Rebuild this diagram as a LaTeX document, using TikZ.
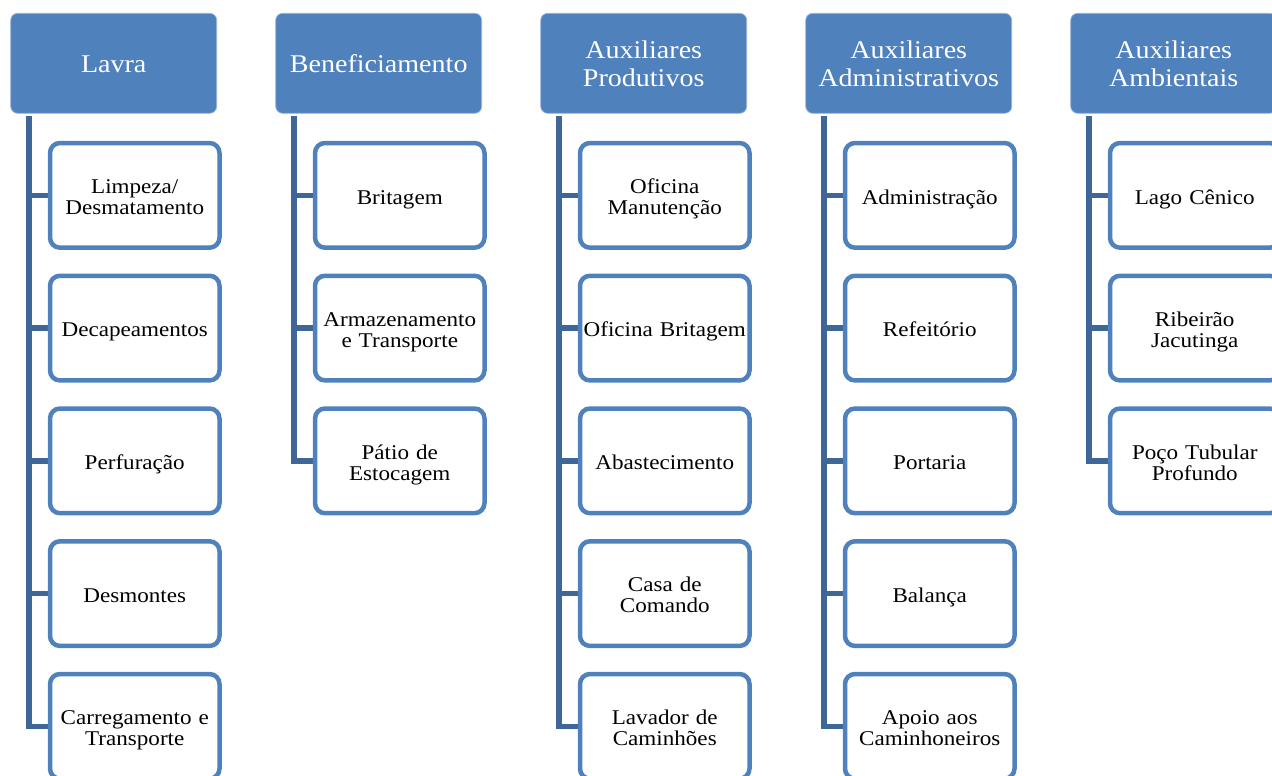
\documentclass[tikz,border=0pt]{standalone}
\usepackage{fontspec}
\setmainfont[FakeStretch=1.1]{Liberation Serif}
\usetikzlibrary{backgrounds}

\definecolor{hdblue}{HTML}{4F81BD}
\definecolor{hdedge}{HTML}{9BB5D8}
\definecolor{boxblue}{HTML}{4F81BD}
\definecolor{lineblue}{HTML}{3E6797}

% struts that keep the capitals of every label centred in its box
\newcommand\topstrut[1]{\rule{0pt}{#1}}
\newcommand\botstrut{\rule[-6pt]{0pt}{6pt}}

\tikzset{
  head/.style={fill=hdblue, draw=hdedge, line width=0.7pt, rounded corners=7pt,
    minimum width=206pt, minimum height=100pt, text=white, align=center,
    text width=200pt, inner sep=0pt, font=\fontsize{25.5}{28.5}\selectfont,
    execute at begin node=\topstrut{24.3pt}, execute at end node=\botstrut},
  item/.style={draw=boxblue, line width=4.5pt, fill=white, rounded corners=10pt,
    minimum width=169.5pt, minimum height=104.7pt, align=center,
    text width=165pt, inner sep=0pt, font=\fontsize{21}{20.8}\selectfont,
    execute at begin node=\topstrut{23.5pt}, execute at end node=\botstrut},
  conn/.style={draw=lineblue, line width=5.5pt, line join=miter}
}

\begin{document}
\begin{tikzpicture}[x=1pt, y=-1pt]
\useasboundingbox (0,0) rectangle (1272,776);
\clip (0,0) rectangle (1272,776);

% headers
\node[head] (h1) at (113.7,63.3) {Lavra};
\node[head] (h2) at (378.7,63.3) {Beneficiamento};
\node[head] (h3) at (643.7,63.3) {Auxiliares\\Produtivos};
\node[head] (h4) at (908.7,63.3) {Auxiliares\\Administrativos};
\node[head] (h5) at (1173.7,63.3) {Auxiliares\\Ambientais};

% tops of the tree trunks
\coordinate (t1) at (29,116);
\coordinate (t2) at (294,116);
\coordinate (t3) at (559,116);
\coordinate (t4) at (824,116);
\coordinate (t5) at (1089,116);

% column 1
\node[item] (a1) at (134.75,195.35) {Limpeza/\\Desmatamento};
\node[item] (a2) at (134.75,328.1) {Decapeamentos};
\node[item] (a3) at (134.75,460.85) {Perfuração};
\node[item] (a4) at (134.75,593.6) {Desmontes};
\node[item] (a5) at (134.75,726.35) {Carregamento e\\Transporte};

% column 2
\node[item] (b1) at (399.75,195.35) {Britagem};
\node[item] (b2) at (399.75,328.1) {Armazenamento\\e Transporte};
\node[item] (b3) at (399.75,460.85) {Pátio de\\Estocagem};

% column 3
\node[item] (c1) at (664.75,195.35) {Oficina\\Manutenção};
\node[item] (c2) at (664.75,328.1) {Oficina Britagem};
\node[item] (c3) at (664.75,460.85) {Abastecimento};
\node[item] (c4) at (664.75,593.6) {Casa de\\Comando};
\node[item] (c5) at (664.75,726.35) {Lavador de\\Caminhões};

% column 4
\node[item] (d1) at (929.75,195.35) {Administração};
\node[item] (d2) at (929.75,328.1) {Refeitório};
\node[item] (d3) at (929.75,460.85) {Portaria};
\node[item] (d4) at (929.75,593.6) {Balança};
\node[item] (d5) at (929.75,726.35) {Apoio aos\\Caminhoneiros};

% column 5
\node[item] (e1) at (1194.75,195.35) {Lago Cênico};
\node[item] (e2) at (1194.75,328.1) {Ribeirão\\Jacutinga};
\node[item] (e3) at (1194.75,460.85) {Poço Tubular\\Profundo};

% connectors, behind the boxes
\begin{scope}[on background layer]
  \foreach \t/\list in {t1/{a1,a2,a3,a4,a5}, t2/{b1,b2,b3},
                        t3/{c1,c2,c3,c4,c5}, t4/{d1,d2,d3,d4,d5},
                        t5/{e1,e2,e3}}
    \foreach \n in \list
      \draw[conn] (\t) |- (\n.west);
\end{scope}
\end{tikzpicture}
\end{document}
